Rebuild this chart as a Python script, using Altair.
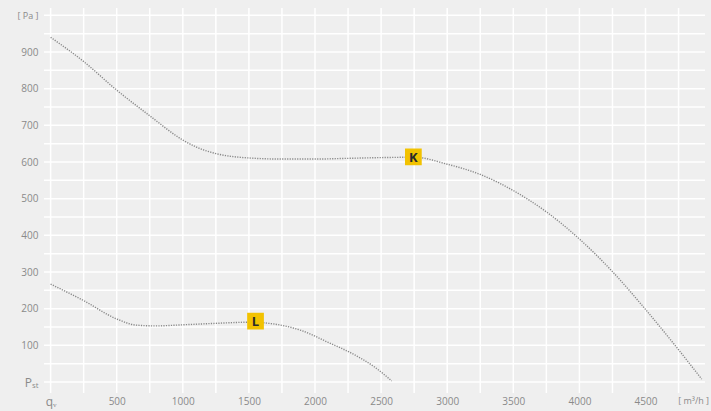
import altair as alt
import pandas as pd

# Fan characteristic curves: static pressure vs. volume flow
k_flow = [0, 250, 500, 750, 1000, 1100, 1250, 1500, 1750, 2000, 2250, 2500, 2750, 3000, 3250,
          3500, 3750, 4000, 4250, 4500, 4750, 4925]
k_pressure = [940, 874, 796, 726, 660, 641, 623, 611, 608, 608, 610, 612, 613, 594, 566,
              522, 464, 390, 301, 198, 88, 8]

l_flow = [0, 250, 500, 650, 800, 1000, 1250, 1500, 1650, 1900, 2100, 2300, 2450, 2580]
l_pressure = [267, 222, 172, 155, 153, 156, 160, 163, 160, 140, 108, 74, 41, 3]

# Curve markers
marker_names = ["K", "L"]
marker_flow = [2744, 1550]
marker_pressure = [614, 166]

# Axis labels
x_tick_values = [0, 500, 1000, 1500, 2000, 2500, 3000, 3500, 4000, 4500, 4860]
x_tick_labels = ["qᵥ", "500", "1000", "1500", "2000", "2500", "3000", "3500", "4000", "4500", "[ m³/h ]"]
y_tick_values = [0, 100, 200, 300, 400, 500, 600, 700, 800, 900, 1000]
y_tick_labels = ["Pₛₜ", "100", "200", "300", "400", "500", "600", "700", "800", "900", "[ Pa ]"]

# Background grid
x_grid = list(range(0, 5000, 250))
y_grid = list(range(0, 1020, 50))

X_DOMAIN = [-50, 4950]
Y_DOMAIN = [-30, 1020]

LABEL_COLOR = "#8a8a8a"


def label_expr(values, labels):
    parts = " : ".join(f"datum.value == {v} ? '{t}'" for v, t in zip(values, labels))
    return f"{parts} : ''"


curves = pd.concat([
    pd.DataFrame({"flow": k_flow, "pressure": k_pressure, "curve": "K", "order": range(len(k_flow))}),
    pd.DataFrame({"flow": l_flow, "pressure": l_pressure, "curve": "L", "order": range(len(l_flow))}),
])
markers = pd.DataFrame({"name": marker_names, "flow": marker_flow, "pressure": marker_pressure})

x_scale = alt.Scale(domain=X_DOMAIN, nice=False, zero=False)
y_scale = alt.Scale(domain=Y_DOMAIN, nice=False, zero=False)

# symbol labels at the origin are a little larger, the unit labels a little smaller
x_label_size = {"condition": [{"test": "datum.value == 0", "value": 12},
                              {"test": f"datum.value == {x_tick_values[-1]}", "value": 9}],
                "value": 10}
y_label_size = {"condition": [{"test": "datum.value == 0", "value": 12},
                              {"test": f"datum.value == {y_tick_values[-1]}", "value": 9}],
                "value": 10}

x_axis = alt.Axis(values=x_tick_values, labelExpr=label_expr(x_tick_values, x_tick_labels),
                  grid=False, ticks=False, domain=False, title=None, labelPadding=3,
                  labelFontSize=x_label_size, labelColor=LABEL_COLOR, labelFont="Open Sans",
                  labelOverlap=False, labelFlush=False)
y_axis = alt.Axis(values=y_tick_values, labelExpr=label_expr(y_tick_values, y_tick_labels),
                  grid=False, ticks=False, domain=False, title=None, labelPadding=6,
                  labelFontSize=y_label_size, labelColor=LABEL_COLOR, labelFont="Open Sans",
                  labelOverlap=False, labelFlush=False)


def xenc(field):
    return alt.X(field, scale=x_scale, axis=x_axis)


def yenc(field):
    return alt.Y(field, scale=y_scale, axis=y_axis)


vgrid = alt.Chart(pd.DataFrame({"v": x_grid})).mark_rule(color="white", strokeWidth=1.5).encode(
    x=xenc("v:Q")
)
hgrid = alt.Chart(pd.DataFrame({"v": y_grid})).mark_rule(color="white", strokeWidth=1.5).encode(
    y=yenc("v:Q")
)

lines = alt.Chart(curves).mark_line(
    color="#888888", strokeWidth=1.4, strokeDash=[1.2, 1.3], interpolate="monotone"
).encode(
    x=xenc("flow:Q"),
    y=yenc("pressure:Q"),
    detail="curve:N",
    order="order:Q",
)

boxes = alt.Chart(markers).mark_square(size=280, color="#f2c200", opacity=1).encode(
    x=xenc("flow:Q"),
    y=yenc("pressure:Q"),
)
letters = alt.Chart(markers).mark_text(
    fontSize=13, fontWeight="bold", color="#2a2a2a", font="Open Sans", baseline="middle", dy=1
).encode(
    x=xenc("flow:Q"),
    y=yenc("pressure:Q"),
    text="name:N",
)

chart = alt.layer(vgrid, hgrid, lines, boxes, letters).properties(
    width=661, height=385, background="#efefef",
    padding={"left": 44, "top": 8, "right": 6, "bottom": 18},
    autosize=alt.AutoSizeParams(type="none"),
).configure_view(stroke=None, fill="#efefef")

chart.save("out.html", embed_options={"renderer": "svg", "actions": False})
